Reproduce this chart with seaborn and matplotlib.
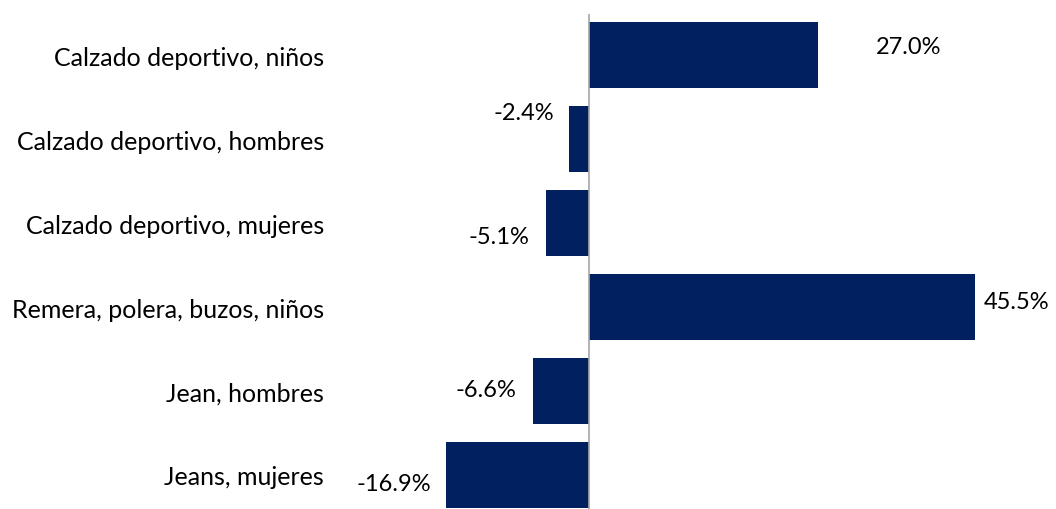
import pandas as pd
import matplotlib.pyplot as plt
import seaborn as sns

# Data (variación %)
categorias = ['Calzado deportivo, niños', 'Calzado deportivo, hombres',
              'Calzado deportivo, mujeres', 'Remera, polera, buzos, niños',
              'Jean, hombres', 'Jeans, mujeres']
variacion = [27.0, -2.4, -5.1, 45.5, -6.6, -16.9]

# label nudges in points (x, y), like the manual placement in the original
nudges = [(41, 6), (-11, 19), (-12, -10), (6, 4), (-12, 1), (-11, -6)]

df = pd.DataFrame({'categoria': categorias, 'variacion': variacion})

sns.set_theme(style='white')
plt.rcParams['font.family'] = ['Lato', 'DejaVu Sans']

fig = plt.figure(figsize=(10.56, 5.1), dpi=100)
ax = fig.add_axes([0.3172, 0.0, 0.6828, 0.9706])

sns.barplot(data=df, x='variacion', y='categoria', orient='h', color='#002060',
            saturation=1, width=0.786, linewidth=0, ax=ax)

ax.set_xlim(-30, 55)
ax.set_ylim(5.405, -0.49)
ax.axvline(0, color='#a6a6a6', lw=1.2, zorder=3)

for i, val in enumerate(df['variacion']):
    dx, dy = nudges[i]
    ha = 'left' if val >= 0 else 'right'
    ax.annotate('{:.1f}%'.format(val), xy=(val, i), xytext=(dx, dy),
                textcoords='offset points', ha=ha, va='center', fontsize=17,
                color='black', annotation_clip=False)

for s in ax.spines.values():
    s.set_visible(False)
ax.set_xticks([])
ax.set_xlabel('')
ax.set_ylabel('')
ax.tick_params(axis='y', length=0, pad=8, labelsize=18, labelcolor='black')

fig.savefig('out.png', dpi=100)
